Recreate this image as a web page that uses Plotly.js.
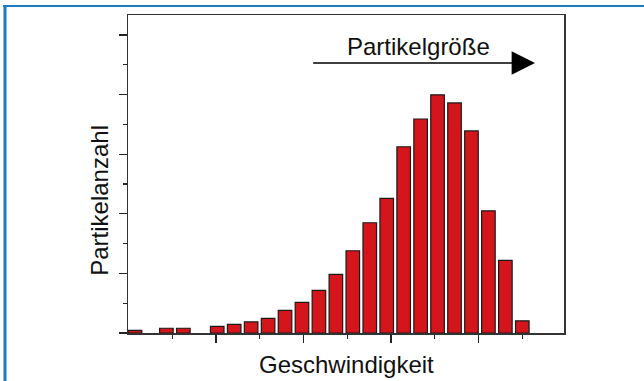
<!DOCTYPE html>
<html><head><meta charset="utf-8">
<script src="https://cdn.plot.ly/plotly-3.0.1.min.js"></script>
<style>html,body{margin:0;padding:0;background:#fff}#chart{width:644px;height:381px}</style>
</head><body><div id="chart"></div>
<script>
const binPositions = [0.15, 2, 3, 5, 6, 7, 8, 9, 10, 11, 12, 13, 14, 15, 16, 17, 18, 19, 20, 21, 22, 23];
const particleCounts = [0.9, 1.6, 1.6, 2.25, 2.9, 3.7, 4.9, 7.6, 10.3, 14.3, 19.7, 27.6, 37.0, 45.2, 62.5, 71.8, 79.9, 77.2, 67.8, 41.0, 24.4, 4.1];
const xTitle = 'Geschwindigkeit';
const yTitle = 'Partikelanzahl';
const arrowLabel = 'Partikelgröße';

const FONT = '"Liberation Sans", Arial, sans-serif';
const axisCommon = {
  showline: true, mirror: true, linecolor: '#333', linewidth: 1.5,
  ticks: 'outside', ticklen: 8, tickwidth: 1.3, tickcolor: '#222',
  showticklabels: false, showgrid: false, zeroline: false, fixedrange: true
};

const trace = {
  type: 'bar', x: binPositions, y: particleCounts, width: 0.8,
  marker: {color: '#d4151b', line: {color: '#1a1a1a', width: 1.2}},
  hoverinfo: 'skip'
};

const layout = {
  width: 644, height: 381,
  margin: {l: 128, r: 80, t: 15, b: 48, pad: 0},
  paper_bgcolor: '#fff', plot_bgcolor: '#fff',
  showlegend: false,
  font: {family: FONT, color: '#111'},
  xaxis: Object.assign({}, axisCommon, {
    range: [-0.265, 25.46], tickmode: 'array', tickvals: [4.926, 10.088, 15.25, 20.412],
    minor: {ticks: 'outside', ticklen: 4, tickwidth: 1.3, tickcolor: '#222', tickmode: 'array',
            tickvals: [2.345, 7.507, 12.669, 17.831, 22.993], showgrid: false}
  }),
  yaxis: Object.assign({}, axisCommon, {
    range: [0, 106.7], tickmode: 'linear', tick0: 0, dtick: 20,
    minor: {ticks: 'outside', ticklen: 4, tickwidth: 1.3, tickcolor: '#222', tick0: 0, dtick: 10, showgrid: false}
  }),
  annotations: [
    {text: xTitle, xref: 'paper', yref: 'paper', x: 0.5, y: -0.0997, xanchor: 'center', yanchor: 'middle',
     showarrow: false, font: {size: 24, color: '#111', family: FONT}},
    {text: yTitle, xref: 'paper', yref: 'paper', x: -0.0672, y: 0.418, xanchor: 'center', yanchor: 'middle',
     textangle: -90, showarrow: false, font: {size: 24, color: '#111', family: FONT}},
    {text: arrowLabel, xref: 'x', yref: 'y', x: 16.9, y: 96.1, xanchor: 'center', yanchor: 'middle',
     showarrow: false, font: {size: 24, color: '#111', family: FONT}},
    {text: '', xref: 'x', yref: 'y', x: 23.75, y: 90.6, axref: 'x', ayref: 'y', ax: 10.57, ay: 90.6,
     showarrow: true, arrowhead: 2, arrowsize: 3.6, arrowwidth: 1.3, arrowcolor: '#000', standoff: 0}
  ],
  shapes: [
    {type: 'line', xref: 'paper', yref: 'paper', x0: (3 - 128) / 436, x1: (644 - 128) / 436,
     y0: (333 - 6) / 318, y1: (333 - 6) / 318, line: {color: '#1a7bc9', width: 2}},
    {type: 'line', xref: 'paper', yref: 'paper', x0: (5 - 128) / 436, x1: (5 - 128) / 436,
     y0: (333 - 5) / 318, y1: (333 - 381) / 318, line: {color: '#1a7bc9', width: 3}}
  ]
};

Plotly.newPlot('chart', [trace], layout, {displayModeBar: false, staticPlot: true});
</script>
</body></html>
